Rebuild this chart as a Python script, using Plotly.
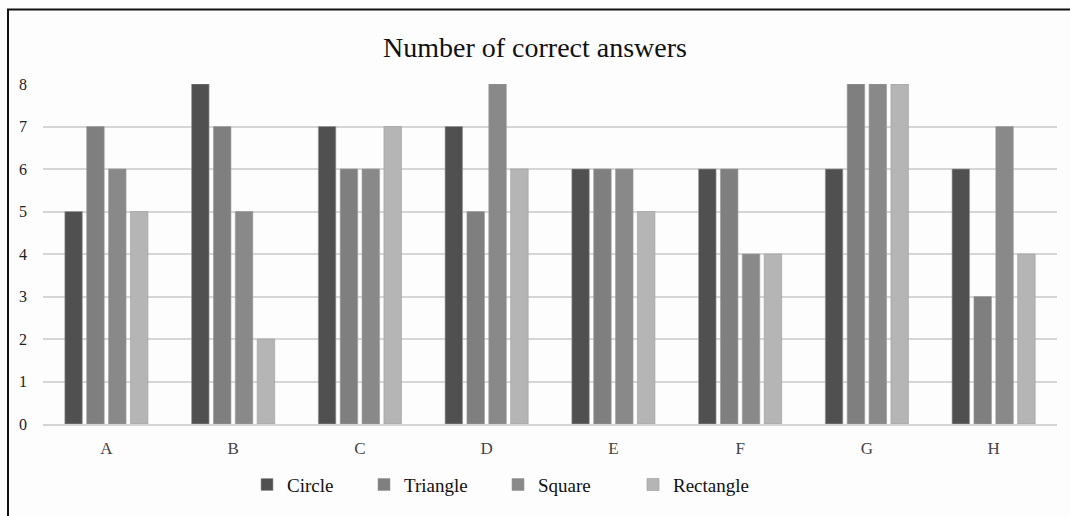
import plotly.graph_objects as go

categories = ["A", "B", "C", "D", "E", "F", "G", "H"]
circle = [5, 8, 7, 7, 6, 6, 6, 6]
triangle = [7, 7, 6, 5, 6, 6, 8, 3]
square = [6, 5, 6, 8, 6, 4, 8, 7]
rectangle = [5, 2, 7, 6, 5, 4, 8, 4]

series = [
    ("Circle", circle, "#505050"),
    ("Triangle", triangle, "#7f7f7f"),
    ("Square", square, "#898989"),
    ("Rectangle", rectangle, "#b5b5b5"),
]

font_family = "Liberation Serif"

L, R, T, B = 43, 13, 84, 90
W, H = 1070, 516
pw, ph = W - L - R, H - T - B


def px_x(p):
    return (p - L) / pw


def px_y(p):
    return (H - B - p) / ph


# each legend entry gets its own legend box so the spacing can be set per item
legend_centers = [267, 384, 518, 653]
legend_ids = ["legend", "legend2", "legend3", "legend4"]

fig = go.Figure()
for (name, values, color), lid in zip(series, legend_ids):
    fig.add_trace(go.Bar(
        x=categories, y=values, name=name, legend=lid,
        marker=dict(color=color, line=dict(color="#9a9a9a", width=0.6)),
    ))

legend_layout = {}
for lid, cx in zip(legend_ids, legend_centers):
    legend_layout[lid] = dict(
        orientation="h", x=px_x(cx - 20), xanchor="left",
        y=px_y(487), yanchor="middle",
        font=dict(family=font_family, size=19, color="#111111"),
        bgcolor="rgba(0,0,0,0)", borderwidth=0,
        itemwidth=30,
    )

fig.update_layout(
    width=W, height=H,
    margin=dict(l=L, r=R, t=T, b=B),
    paper_bgcolor="#fdfdfd",
    plot_bgcolor="#fdfdfd",
    barmode="group",
    bargap=0.31,
    bargroupgap=0.2,
    font=dict(family=font_family, color="#333333", size=14),
    title=dict(
        text="Number of correct answers",
        x=0.5, xanchor="center",
        y=1 - 47 / H, yanchor="middle",
        font=dict(family=font_family, size=28, color="#111111"),
    ),
    xaxis=dict(
        showgrid=False, showline=True, linecolor="#d4d4d4", linewidth=1.5,
        ticks="", tickfont=dict(size=17, color="#444444"),
        ticklabelstandoff=8,
    ),
    yaxis=dict(
        range=[0, 8], dtick=1, showgrid=True, gridcolor="#d6d6d6",
        gridwidth=1.5, zeroline=False, ticks="", showline=False,
        tickfont=dict(size=16, color="#222222"),
        ticklabelstandoff=15,
    ),
    showlegend=True,
    **legend_layout,
)

# chart frame
fig.add_shape(
    type="rect", xref="paper", yref="paper",
    x0=px_x(8), x1=px_x(1080), y0=px_y(530), y1=px_y(9),
    line=dict(color="#111111", width=2), fillcolor="rgba(0,0,0,0)",
    layer="above",
)

fig.write_html("out.html")
